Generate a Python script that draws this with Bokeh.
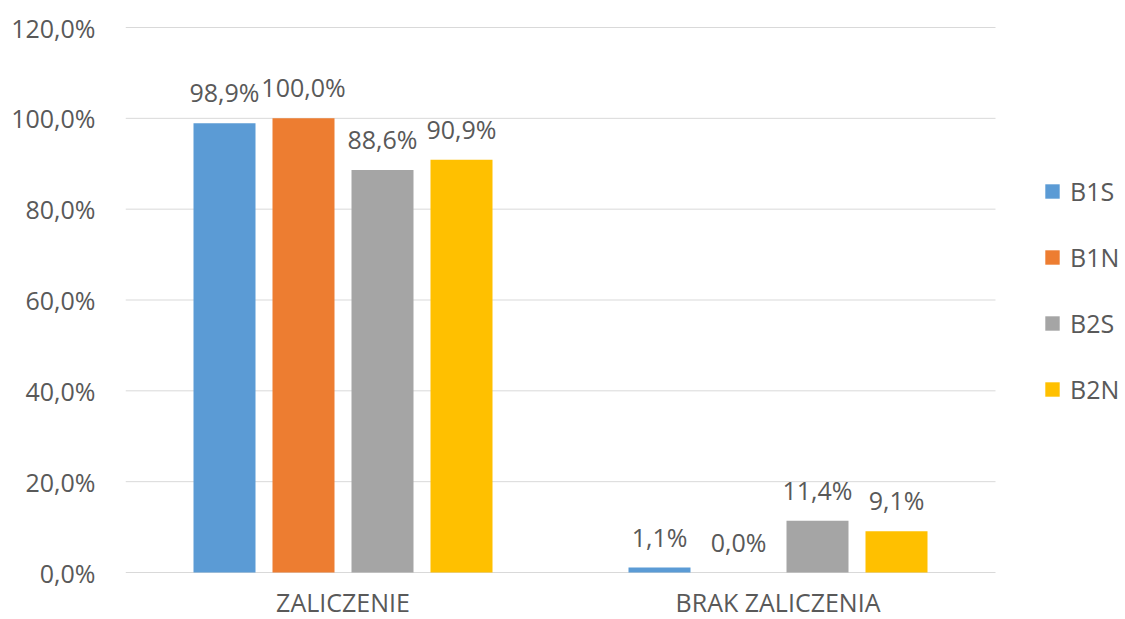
from bokeh.plotting import figure
from bokeh.models import ColumnDataSource, Range1d, FixedTicker, Legend, LegendItem
from bokeh.transform import dodge
from bokeh.core.properties import value
from bokeh.embed import file_html
from bokeh.resources import INLINE

categories = ["ZALICZENIE", "BRAK ZALICZENIA"]
series = ["B1S", "B1N", "B2S", "B2N"]
colors = ["#5B9BD5", "#ED7D31", "#A5A5A5", "#FFC000"]
B1S = [98.9, 1.1]
B1N = [100.0, 0.0]
B2S = [88.6, 11.4]
B2N = [90.9, 9.1]
y_ticks = [0, 20, 40, 60, 80, 100, 120]
y_tick_labels = ["0,0%", "20,0%", "40,0%", "60,0%", "80,0%", "100,0%", "120,0%"]

FONT = "Open Sans"
TXT = "#595959"
GRID = "#D9D9D9"

W, H = 1125, 619
LEFT = 125
PX_X = 435.0            # pixels per category
Y0, Y120 = 572.0, 27.0  # pixel rows of 0% and 120%
PX_Y = (Y0 - Y120) / 120.0
ncat = len(categories)
x_end = (W - LEFT) / PX_X
y_end = 120 + Y120 / PX_Y
y_start = -(H - Y0) / PX_Y

p = figure(width=W, height=H, x_range=Range1d(0, x_end), y_range=Range1d(y_start, y_end),
           output_backend="svg", toolbar_location=None,
           min_border_left=LEFT, min_border_right=0, min_border_top=0, min_border_bottom=0)
p.outline_line_color = None
p.xgrid.grid_line_color = None
p.ygrid.grid_line_color = None
p.xaxis.visible = False

p.yaxis.ticker = FixedTicker(ticks=y_ticks)
p.yaxis.major_label_overrides = {t: l for t, l in zip(y_ticks, y_tick_labels)}
p.yaxis.axis_line_color = None
p.yaxis.major_tick_line_color = None
p.yaxis.minor_tick_line_color = None
p.yaxis.major_tick_out = 0
p.yaxis.major_tick_in = 0
p.yaxis.major_label_standoff = 30
p.yaxis.major_label_text_font = FONT
p.yaxis.major_label_text_font_size = "25px"
p.yaxis.major_label_text_color = TXT

# horizontal grid lines spanning the category area only
p.segment(x0=[0] * len(y_ticks), x1=[ncat] * len(y_ticks), y0=y_ticks, y1=y_ticks,
          line_color=GRID, line_width=1)

centers = [i + 0.5 for i in range(ncat)]
p.text(x=centers, y=[0] * ncat, text=categories, text_align="center", text_baseline="bottom",
       y_offset=46, text_font=value(FONT), text_font_size="25px", text_color=TXT)

step = 79.0 / PX_X
bw = 62.0 / PX_X
items = []
for i, (name, vals, col) in enumerate(zip(series, [B1S, B1N, B2S, B2N], colors)):
    off = (i - 1.5) * step
    src = ColumnDataSource(dict(xc=centers, val=vals,
                                lbl=[("%.1f%%" % v).replace(".", ",") for v in vals]))
    r = p.vbar(x=dodge("xc", off), top="val", bottom=0, width=bw, source=src,
               fill_color=col, line_color=None)
    p.text(x=dodge("xc", off), y="val", text="lbl", source=src,
           text_align="center", text_baseline="alphabetic", y_offset=-31,
           text_font=value(FONT), text_font_size="25px", text_color=TXT)
    items.append(LegendItem(label=name, renderers=[r]))

legend = Legend(items=items, location=(918, 213), orientation="vertical",
                glyph_width=18, glyph_height=18, label_height=30, label_standoff=9, spacing=32,
                padding=0, margin=0, border_line_color=None, background_fill_alpha=0,
                label_text_font=FONT, label_text_font_size="25px", label_text_color=TXT)
p.add_layout(legend, "center")

open("out.html", "w").write(file_html(p, INLINE))
